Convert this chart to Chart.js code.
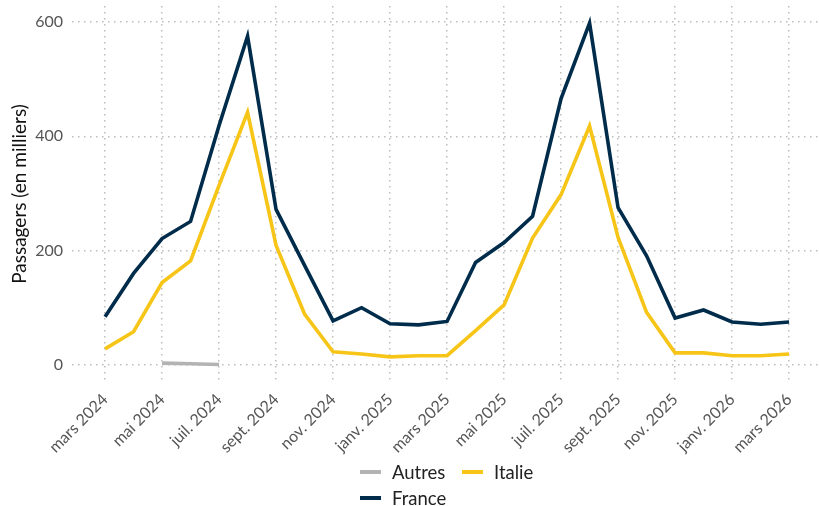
<!DOCTYPE html>
<html>
<head>
<meta charset="utf-8">
<script src="https://cdn.jsdelivr.net/npm/chart.js@4/dist/chart.umd.min.js"></script>
<style>
  html, body { margin: 0; padding: 0; background: #fff; }
  #wrap { position: relative; width: 819px; height: 506px; }
  #legend { position: absolute; left: 0; top: 460px; width: 819px; font-family: Lato, sans-serif; font-size: 18.5px; color: #222; }
  .item { position: absolute; display: flex; align-items: center; white-space: nowrap; height: 24px; }
  .sw { display: inline-block; width: 21px; height: 4px; margin-right: 11px; }
</style>
</head>
<body>
<div id="wrap">
  <canvas id="c" width="819" height="506"></canvas>
  <div id="legend"></div>
</div>
<script>
const months = ["mars 2024","avr. 2024","mai 2024","juin 2024","juil. 2024","août 2024","sept. 2024","oct. 2024","nov. 2024","déc. 2024",
  "janv. 2025","févr. 2025","mars 2025","avr. 2025","mai 2025","juin 2025","juil. 2025","août 2025","sept. 2025","oct. 2025","nov. 2025","déc. 2025",
  "janv. 2026","févr. 2026","mars 2026"];
const france = [84,160,221,251,419,575,272,174,77,100,72,70,76,179,214,260,466,598,275,191,82,96,75,71,75];
const italie = [28,58,144,182,314,442,209,89,23,19,14,16,16,60,105,222,298,418,223,92,21,21,16,16,19];
const autres = [null,null,3,2,0.5,null,null,null,null,null,null,null,null,null,null,null,null,null,null,null,null,null,null,null,null];
const yTicks = [0,200,400,600];
const seriesNames = ["Autres","Italie","France"];
const seriesColors = ["#b3b3b3","#f7c518","#002c4b"];

const toPts = arr => arr.map((v,i) => ({x:i, y:v}));
const datasets = [autres, italie, france].map((arr, k) => ({
  label: seriesNames[k],
  data: toPts(arr),
  borderColor: seriesColors[k],
  backgroundColor: seriesColors[k],
  borderWidth: 3.6,
  pointRadius: 0,
  tension: 0,
  spanGaps: false,
  borderJoinStyle: 'miter',
  order: 3 - k
}));

const gridColor = '#bdbdbd';
new Chart(document.getElementById('c'), {
  type: 'line',
  data: { datasets },
  options: {
    responsive: false,
    animation: false,
    layout: { padding: { top: 6, right: 0, left: 0, bottom: 0 } },
    plugins: { legend: { display: false }, tooltip: { enabled: false } },
    scales: {
      x: {
        type: 'linear',
        min: -1.16, max: 25.05,
        grid: { color: gridColor, lineWidth: 1.5, drawTicks: false },
        border: { display: false, dash: [1.5,4.5] },
        afterBuildTicks: s => { s.ticks = months.map((m,i)=>({value:i})).filter((t,i)=> i%2===0); },
        ticks: {
          autoSkip: false,
          minRotation: 45, maxRotation: 45,
          padding: 8,
          color: '#555',
          font: { family: 'Lato', size: 16 },
          callback: v => months[v]
        },
        afterFit: s => { s.height = 506 - 382; s.paddingLeft = 0; s.paddingRight = 0; }
      },
      y: {
        min: -30, max: 628,
        grid: { color: gridColor, lineWidth: 1.5, drawTicks: false },
        border: { display: false, dash: [1.5,4.5] },
        afterBuildTicks: s => { s.ticks = yTicks.map(v=>({value:v})); },
        ticks: { padding: 9, color: '#555', font: { family: 'Lato', size: 16 } },
        title: { display: true, text: 'Passagers (en milliers)', color: '#111', font: { family: 'Lato', size: 19 }, padding: { top: 8, bottom: 0 } },
        afterFit: s => { s.width = 72; s.paddingTop = 0; s.paddingBottom = 0; }
      }
    }
  }
});

// HTML legend built from the series arrays
const pos = [[360, 0], [462, 0], [360, 26]];
const leg = document.getElementById('legend');
seriesNames.forEach((n, k) => {
  const d = document.createElement('div');
  d.className = 'item';
  d.style.left = pos[k][0] + 'px';
  d.style.top = pos[k][1] + 'px';
  d.innerHTML = '<span class="sw" style="background:' + seriesColors[k] + '"></span>' + n;
  leg.appendChild(d);
});
</script>
</body>
</html>
